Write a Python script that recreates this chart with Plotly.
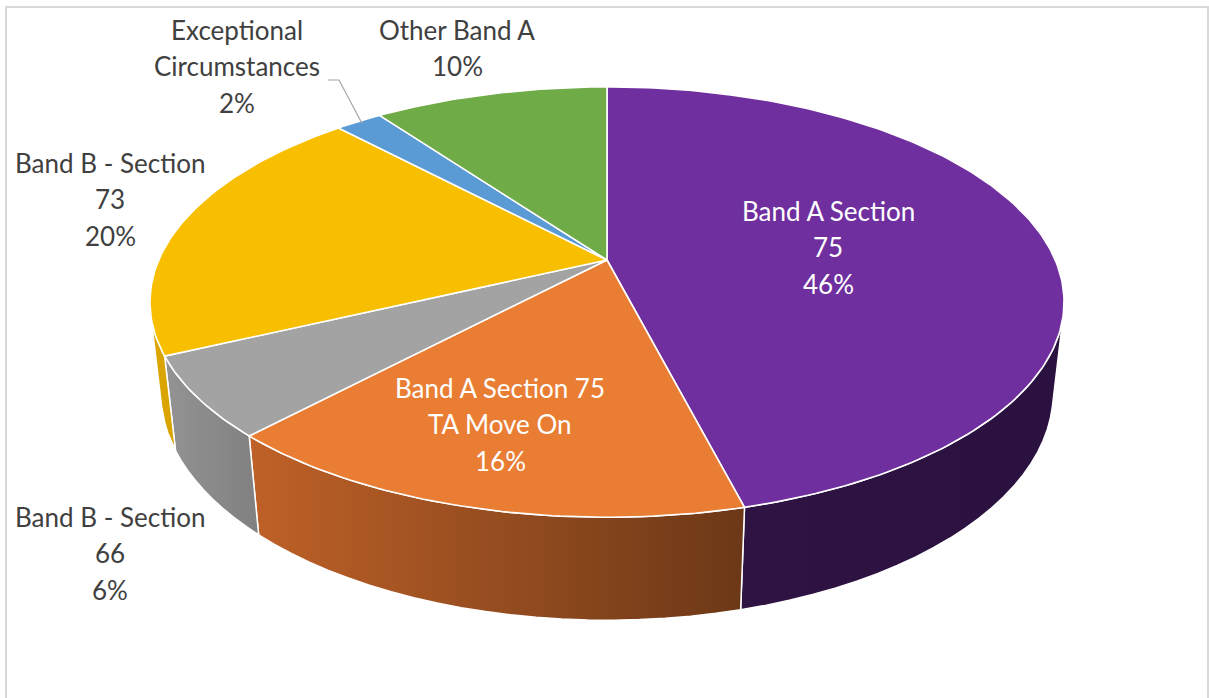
import numpy as np
import plotly.graph_objects as go

# ---- data ----
categories = [
    "Band A Section 75",
    "Band A Section 75 TA Move On",
    "Band B - Section 66",
    "Band B - Section 73",
    "Exceptional Circumstances",
    "Other Band A",
]
label_lines = [
    ["Band A Section", "75"],
    ["Band A Section 75", "TA Move On"],
    ["Band B - Section", "66"],
    ["Band B - Section", "73"],
    ["Exceptional", "Circumstances"],
    ["Other Band A"],
]
values = [46, 16, 6, 20, 2, 10]

top_colors = ["#6F2F9F", "#E97D33", "#A3A3A3", "#F8BE00", "#5A9AD5", "#6FAB47"]
wall_colors = [
    ("#2E1343", "#2B1140"),
    ("#BF6128", "#6C3817"),
    ("#939393", "#808080"),
    ("#DCA500", "#D9A300"),
    ("#3F6E99", "#3F6E99"),
    ("#4E7A32", "#4E7A32"),
]

# label placement (pixel positions, style only)
label_x = [828, 500, 110, 110, 237, 457]
label_y0 = [211, 388, 517, 163, 30, 30]
label_color = ["white", "white", "#404040", "#404040", "#404040", "#404040"]
LINE_GAP = 36.3

# ---- 3D perspective camera (style) ----
W, Hpx = 1209, 698
CX, CY = 607.0, 260.0
F = 2033.6
D = 4.537
ELEV = np.radians(27.5)
THICK = 0.2294
c, s = np.cos(ELEV), np.sin(ELEV)


def proj(px, py, pz):
    depth = D + c * py - s * pz
    X = CX + F * px / depth
    Y = CY - F * (s * py + c * pz) / depth
    return X, Y


def rim(t1, t2, z, n=120):
    th = np.linspace(t1, t2, max(3, int(n * (t2 - t1) / (2 * np.pi)) + 3))
    return proj(np.sin(th), np.cos(th), np.full_like(th, z))


total = float(sum(values))
fr = np.array(values) / total
cum = np.concatenate([[0], np.cumsum(fr)]) * 2 * np.pi

# visible range of the outer wall
th_vis = np.arccos(-1.0 / (D * c))
vis_a, vis_b = th_vis, 2 * np.pi - th_vis

fig = go.Figure()

# walls first
for i in range(len(values)):
    a, b = max(cum[i], vis_a), min(cum[i + 1], vis_b)
    if b <= a:
        continue
    xt, yt = rim(a, b, 0.0)
    xb, yb = rim(a, b, -THICK)
    xs = np.concatenate([xt, xb[::-1], xt[:1]])
    ys = np.concatenate([yt, yb[::-1], yt[:1]])
    c1, c2 = wall_colors[i]
    fig.add_trace(go.Scatter(
        x=xs, y=ys, mode="lines", fill="toself",
        fillgradient=dict(type="horizontal", colorscale=[[0, c1], [1, c2]]),
        line=dict(color="white", width=1.5),
        hoverinfo="skip", showlegend=False,
    ))

# top faces
for i in range(len(values)):
    xt, yt = rim(cum[i], cum[i + 1], 0.0, n=400)
    xs = np.concatenate([[CX], xt, [CX]])
    ys = np.concatenate([[CY], yt, [CY]])
    fig.add_trace(go.Scatter(
        x=xs, y=ys, mode="lines", fill="toself", fillcolor=top_colors[i],
        line=dict(color="white", width=1.6),
        hoverinfo="skip", showlegend=False,
    ))

# leader line for the small slice
k = 4
mid = (cum[k] + cum[k + 1]) / 2
ex, ey = proj(np.sin(mid) * 0.985, np.cos(mid) * 0.985, 0.0)
fig.add_trace(go.Scatter(
    x=[328, 339, ex], y=[80, 80, ey], mode="lines",
    line=dict(color="#A6A6A6", width=1.2),
    hoverinfo="skip", showlegend=False,
))

# labels
annotations = []
for i in range(len(values)):
    lines = label_lines[i] + [f"{values[i]}%"]
    for j, t in enumerate(lines):
        annotations.append(dict(
            x=label_x[i], y=label_y0[i] + j * LINE_GAP, xref="x", yref="y",
            text=t, showarrow=False, xanchor="center", yanchor="middle",
            font=dict(family="Lato", size=26, color=label_color[i]),
        ))

fig.update_layout(
    width=W, height=Hpx,
    margin=dict(l=0, r=0, t=0, b=0),
    paper_bgcolor="white", plot_bgcolor="white",
    xaxis=dict(range=[0, W], visible=False, fixedrange=True),
    yaxis=dict(range=[Hpx, 0], visible=False, fixedrange=True),
    annotations=annotations,
    shapes=[dict(type="rect", xref="x", yref="y", x0=6, x1=1208, y0=7, y1=712,
                 line=dict(color="#D9D9D9", width=2), fillcolor="rgba(0,0,0,0)",
                 layer="below")],
)

fig.write_html("out.html")
